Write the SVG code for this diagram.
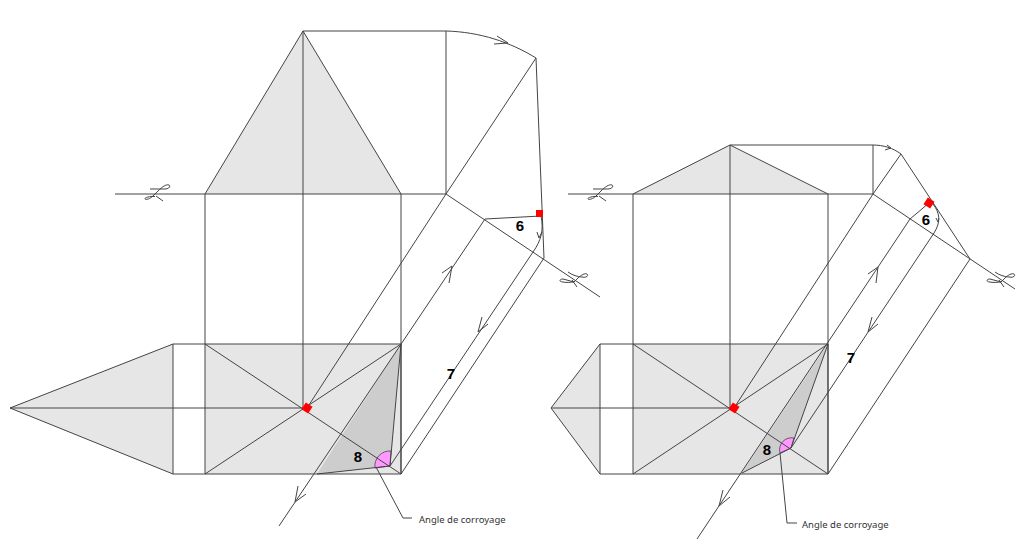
<svg xmlns="http://www.w3.org/2000/svg" width="1024" height="559" viewBox="0 0 1024 559">
<style>
.l{fill:none;stroke:#444;stroke-width:1}
.g{fill:#e6e6e6;stroke:none}
.d{fill:#cdcdcd;stroke:none}
.p{fill:#ff99ff;stroke:#444;stroke-width:.8}
.r{fill:#f00;stroke:none}
.n{font:bold 15px "Liberation Sans",Arial,sans-serif;fill:#000;text-anchor:middle}
.t{font:9.5px "Noto Sans",Verdana,sans-serif;fill:#333}
</style>
<defs>
<g id="sign" class="l">
<path d="M-5-5H10C14-5 16-8 14-9C11-10 7-7 3-3L-2 2C-5 5-9 6-10 5C-11 4-6 2 0 2.5"/>
<path d="M1 2L8 7"/>
</g>
<g id="sign-sloped" class="l">
<path d="M568 272C572 275 578 277 582 277C586 278 589 276 587 274C585 273 581 275 578 278L574 282"/>
<path d="M574 282L563 279C559 279 559 282 563 282C567 283 571 282 574 282M572 280L577 287"/>
</g>
</defs>
<g id="left-figure">
<path class="g" d="M303 31L205 194H401Z"/>
<rect class="g" x="205" y="344" width="196" height="130"/>
<path class="g" d="M173 344L10 408L173 474Z"/>
<path class="d" d="M401 344L390 466L317 474Z"/>
<path class="p" d="M390 466L391 451A15 15 0 0 0 375 468Z"/>
<g class="l">
<path d="M173 344H401V474H173ZM173 344L10 408L173 474M205 194V474M401 194V474M303 31V408M10 408H303"/>
<path d="M303 31L205 194M303 31L401 194M115 194H446M303 31H446V194"/>
<path d="M205 344L401 474M205 474L401 344"/>
<path d="M536 58L446 194L307 408M446 194L600 297"/>
<path d="M446 31C480 32 510 42 536 58L544 258L401 474"/>
<path d="M485 219L279 526M485 219L541 216M390 466L533 252C541 241 544 230 541 216"/>
<path d="M401 344L390 466L317 474"/>
<path d="M376 467L403 518H412"/>
</g>
<rect class="r" x="536" y="210" width="7" height="7"/>
<rect class="r" x="-4" y="-4" width="8" height="8" transform="translate(307 408) rotate(33)"/>
<use href="#sign" x="155" y="194"/>
<use href="#sign-sloped"/>
<text class="n" x="520" y="231">6</text>
<text class="n" x="451" y="379">7</text>
<text class="n" x="358" y="462">8</text>
<text class="t" x="419" y="523">Angle de corroyage</text>
</g>
<g id="right-figure">
<path class="g" d="M730 145L633 194H828Z"/>
<rect class="g" x="633" y="344" width="195" height="130"/>
<path class="g" d="M600 344L551 408L600 474Z"/>
<path class="d" d="M828 344L791 448L742 473Z"/>
<path class="p" d="M791 448L794 438A12 12 0 0 0 780 453Z"/>
<g class="l">
<path d="M600 344H828V474H600ZM600 344L551 408L600 474M633 194V474M828 194V474M730 145V408M551 408H730"/>
<path d="M730 145L633 194M730 145L828 194M568 194H873M730 145H873V194"/>
<path d="M633 344L828 474M633 474L828 344"/>
<path d="M901 154L873 194L734 408M873 194L1015 289"/>
<path d="M873 145C883 145 893 148 901 154L970 259L828 474"/>
<path d="M929 203L910 219L697 539M791 448L934 233C941 222 940 213 933 204"/>
<path d="M828 344L791 448L742 473"/>
<path d="M780 453L787 523H797"/>
</g>
<rect class="r" x="-4" y="-4" width="8" height="8" transform="translate(929 203) rotate(33)"/>
<rect class="r" x="-4" y="-4" width="8" height="8" transform="translate(734 408) rotate(33)"/>
<use href="#sign" x="598" y="194"/>
<use href="#sign-sloped" x="427" y="0"/>
<text class="n" x="926" y="225">6</text>
<text class="n" x="851" y="363">7</text>
<text class="n" x="767" y="455">8</text>
<text class="t" x="802" y="528">Angle de corroyage</text>
</g>
<g id="connectors" class="l">
<path d="M497 36L508 43L494 44"/>
<path d="M442 273L452 266L449 283"/>
<path d="M482 317L478 332L488 324"/>
<path d="M537 232L539 238L542 232"/>
<path d="M298 486L295 502L306 494"/>
<path d="M887 145L891 148L885 150"/>
<path d="M868 274L878 267L876 283"/>
<path d="M872 317L868 332L878 324"/>
<path d="M936 218L938 222L939 218"/>
<path d="M723 490L719 506L730 497"/>
</g>
</svg>
